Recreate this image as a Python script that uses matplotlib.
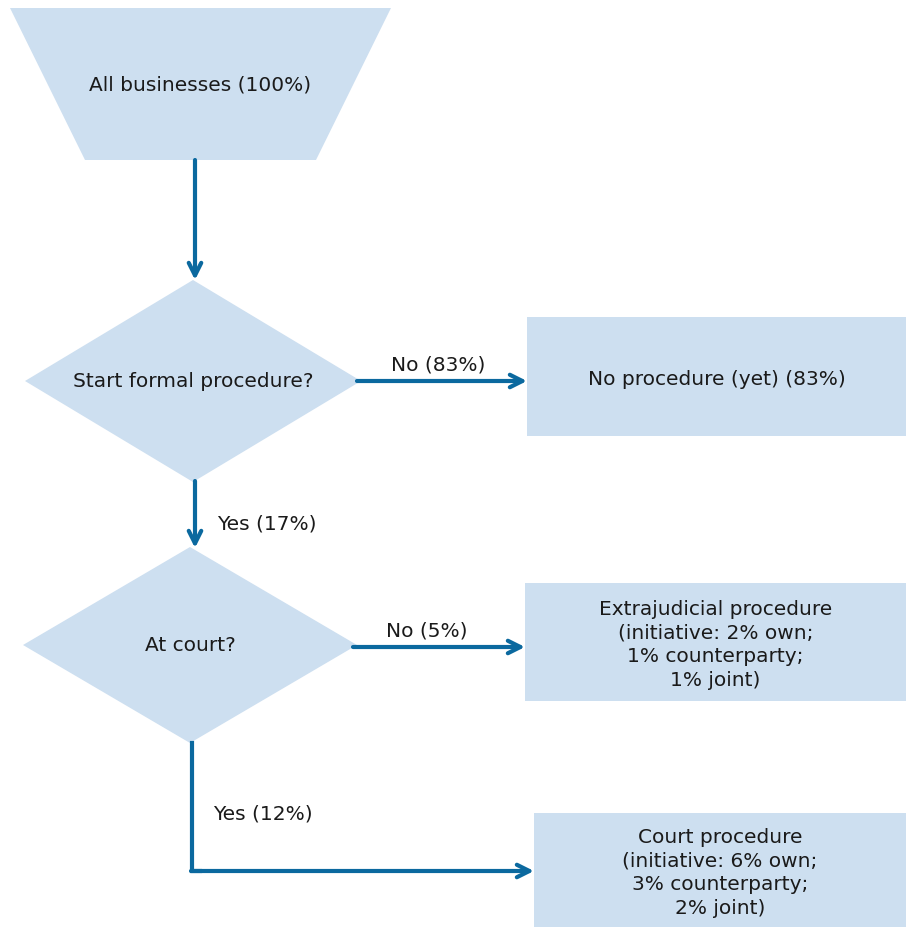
import matplotlib.pyplot as plt
from matplotlib.patches import Polygon, Rectangle

plt.rcParams['font.family'] = ['DejaVu Sans']

# flowchart texts
start_label = "All businesses (100%)"
question_labels = ["Start formal procedure?", "At court?"]
outcome_labels = [
    "No procedure (yet) (83%)",
    "Extrajudicial procedure\n(initiative: 2% own;\n1% counterparty;\n1% joint)",
    "Court procedure\n(initiative: 6% own;\n3% counterparty;\n2% joint)",
]
edge_labels = ["No (83%)", "Yes (17%)", "No (5%)", "Yes (12%)"]

FILL = "#cddff0"
LINE = "#0b699f"
TXT = "#1a1a1a"
FS = 14.5

fig = plt.figure(figsize=(9.06, 9.28), dpi=100)
ax = fig.add_axes([0, 0, 1, 1])
ax.set_xlim(0, 906)
ax.set_ylim(928, 0)
ax.axis("off")

# start shape (trapezoid)
ax.add_patch(Polygon([(10, 9), (391, 9), (316, 161), (85, 161)], closed=True,
                     fc=FILL, ec="none"))
ax.text(200, 85, start_label, ha="center", va="center", fontsize=FS, color=TXT)

# decision diamonds
diamonds = [(193, 382, 168, 101), (190, 646, 167, 98)]
for (cx, cy, hw, hh), lab in zip(diamonds, question_labels):
    ax.add_patch(Polygon([(cx, cy - hh), (cx + hw, cy), (cx, cy + hh), (cx - hw, cy)],
                         closed=True, fc=FILL, ec="none"))
    ax.text(cx, cy, lab, ha="center", va="center", fontsize=FS, color=TXT)

# outcome boxes
boxes = [(527, 318, 379, 119), (525, 584, 381, 118), (534, 814, 372, 114)]
for (x, y, w, h), lab in zip(boxes, outcome_labels):
    ax.add_patch(Rectangle((x, y), w, h, fc=FILL, ec="none"))
    ax.text(x + w / 2, y + h / 2 + 2, lab, ha="center", va="center", fontsize=FS,
            color=TXT, linespacing=1.32)


def arrow(x0, y0, x1, y1):
    ax.annotate("", xy=(x1, y1), xytext=(x0, y0),
                arrowprops=dict(arrowstyle="->,head_length=0.9,head_width=0.45",
                                color=LINE, lw=3, shrinkA=0, shrinkB=0))


arrow(195, 161, 195, 281)
arrow(357, 382, 527, 382)
arrow(195, 482, 195, 549)
arrow(353, 648, 525, 648)
ax.plot([192, 192, 200], [744, 872, 872], color=LINE, lw=3, solid_joinstyle="miter")
arrow(191, 872, 534, 872)

ax.text(438, 365, edge_labels[0], ha="center", va="center", fontsize=FS, color=TXT)
ax.text(217, 524, edge_labels[1], ha="left", va="center", fontsize=FS, color=TXT)
ax.text(427, 631, edge_labels[2], ha="center", va="center", fontsize=FS, color=TXT)
ax.text(213, 814, edge_labels[3], ha="left", va="center", fontsize=FS, color=TXT)

fig.savefig("out.png", dpi=100)
